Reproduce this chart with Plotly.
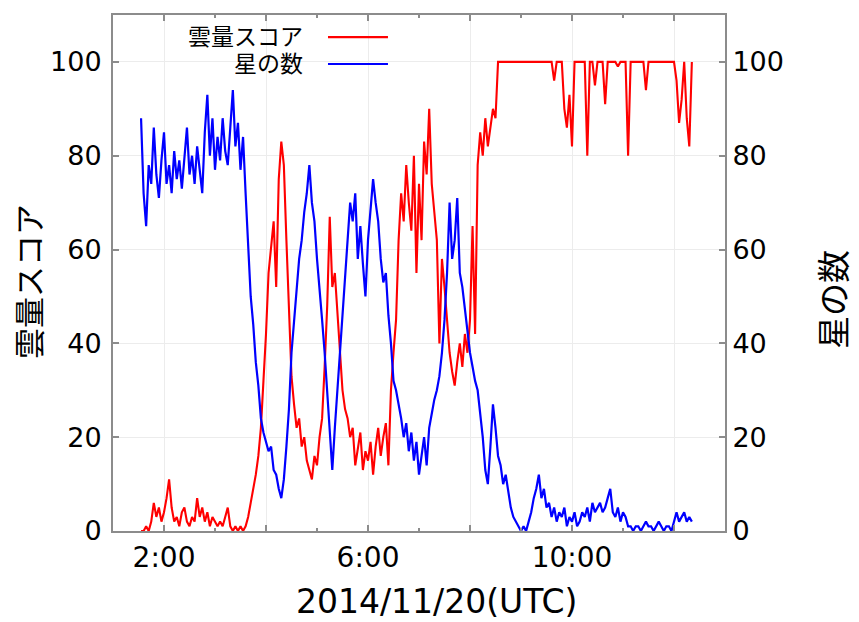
import pandas as pd
import plotly.graph_objects as go

# Cloud score (left axis) and star count (right axis), sampled every 3 minutes from 01:33 UTC
cloud_score = [
    0, 0, 1, 0, 2, 6, 3, 5, 2, 4,
    7, 11, 5, 2, 3, 1, 4, 5, 2, 1,
    3, 2, 7, 3, 5, 2, 4, 1, 3, 2,
    1, 2, 1, 3, 5, 1, 0, 1, 0, 1,
    0, 1, 3, 6, 9, 12, 16, 22, 32, 42,
    55, 60, 66, 52, 75, 83, 78, 62, 45, 33,
    27, 22, 24, 18, 20, 15, 13, 11, 16, 14,
    20, 24, 35, 48, 67, 52, 55, 46, 38, 30,
    26, 24, 20, 22, 14, 18, 21, 13, 17, 15,
    19, 12, 18, 22, 16, 20, 23, 14, 30, 38,
    45, 62, 72, 66, 78, 70, 64, 80, 55, 74,
    62, 83, 76, 90, 74, 68, 62, 40, 58, 52,
    44, 38, 34, 31, 36, 40, 35, 42, 38, 45,
    65, 42, 78, 85, 80, 88, 82, 86, 90, 88,
    100, 100, 100, 100, 100, 100, 100, 100, 100, 100,
    100, 100, 100, 100, 100, 100, 100, 100, 100, 100,
    100, 100, 96, 100, 100, 100, 90, 86, 93, 82,
    100, 100, 100, 100, 100, 80, 100, 100, 95, 100,
    100, 100, 91, 100, 100, 100, 100, 99, 100, 100,
    100, 80, 100, 100, 100, 100, 100, 100, 94, 100,
    100, 100, 100, 100, 100, 100, 100, 100, 100, 100,
    96, 87, 92, 100, 88, 82, 100,
]

star_count = [
    88, 72, 65, 78, 74, 86, 76, 71, 79, 85,
    74, 78, 72, 81, 75, 79, 73, 80, 86, 76,
    80, 74, 82, 77, 72, 85, 93, 80, 88, 77,
    84, 79, 88, 81, 78, 86, 94, 82, 87, 77,
    84, 72, 62, 50, 44, 36, 31, 24, 21, 19,
    17, 18, 13, 12, 9, 7, 11, 18, 26, 38,
    45, 52, 58, 62, 68, 72, 78, 70, 66, 58,
    52, 45, 38, 30, 20, 13, 22, 30, 38, 45,
    52, 62, 70, 66, 72, 58, 65, 57, 50, 62,
    68, 75, 70, 66, 58, 53, 55, 46, 40, 32,
    30, 27, 24, 20, 23, 17, 21, 15, 19, 12,
    16, 20, 14, 22, 25, 28, 30, 33, 38, 45,
    55, 70, 58, 62, 71, 55, 52, 47, 42, 38,
    35, 32, 30, 25, 20, 13, 10, 18, 27, 22,
    16, 14, 10, 12, 8, 5, 3, 2, 1, 0,
    1, 0, 2, 4, 7, 9, 12, 7, 9, 5,
    6, 3, 5, 2, 4, 3, 5, 1, 3, 2,
    4, 1, 2, 4, 3, 5, 2, 6, 4, 5,
    6, 4, 5, 7, 9, 4, 3, 5, 2, 4,
    3, 1, 1, 0, 1, 1, 0, 1, 2, 1,
    1, 0, 1, 2, 1, 0, 1, 1, 0, 2,
    4, 2, 3, 4, 2, 3, 2,
]

times = pd.date_range("2014-11-20 01:33", periods=len(cloud_score), freq="3min")

tick_vals = ["2014-11-20 02:00", "2014-11-20 04:00", "2014-11-20 06:00",
             "2014-11-20 08:00", "2014-11-20 10:00", "2014-11-20 12:00"]
tick_text = ["2:00", "", "6:00", "", "10:00", ""]
y_ticks = [0, 20, 40, 60, 80, 100]

RED = "#ff0000"
BLUE = "#0000ff"
AXIS = "#8c8c8c"
GRID = "#ececec"
LATIN = "DejaVu Sans"
JP = "DejaVu Sans, Noto Sans CJK JP"

fig = go.Figure()
fig.add_trace(go.Scatter(x=times, y=cloud_score, mode="lines", name="雲量スコア",
                         line=dict(color=RED, width=2.1), yaxis="y"))
fig.add_trace(go.Scatter(x=times, y=star_count, mode="lines", name="星の数",
                         line=dict(color=BLUE, width=2.2), yaxis="y2"))

fig.update_layout(
    width=859, height=622,
    margin=dict(l=113, r=134, t=15, b=91),
    paper_bgcolor="white", plot_bgcolor="white",
    showlegend=False,
    font=dict(family=LATIN, size=27, color="black"),
    xaxis=dict(
        type="date",
        range=["2014-11-20 01:00", "2014-11-20 13:00"],
        tickmode="array", tickvals=tick_vals, ticktext=tick_text,
        ticks="inside", ticklen=6, tickwidth=1.5, tickcolor=AXIS,
        minor=dict(dtick=3600000, ticks="inside", ticklen=3, tickcolor=AXIS,
                   showgrid=False),
        showline=True, linecolor=AXIS, linewidth=2, mirror="ticks",
        showgrid=True, gridcolor=GRID, gridwidth=1,
        zeroline=False, ticklabelstandoff=0,
        tickfont=dict(family=LATIN, size=28),
    ),
    yaxis=dict(
        range=[0, 110], tickvals=y_ticks,
        ticks="inside", ticklen=6, tickwidth=1.5, tickcolor=AXIS,
        showline=True, linecolor=AXIS, linewidth=2,
        showgrid=True, gridcolor=GRID, gridwidth=1,
        zeroline=False, ticklabelstandoff=4,
        tickfont=dict(family=LATIN, size=27),
    ),
    yaxis2=dict(
        range=[0, 110], tickvals=y_ticks, overlaying="y", side="right",
        ticks="inside", ticklen=6, tickwidth=1.5, tickcolor=AXIS,
        showline=True, linecolor=AXIS, linewidth=2,
        showgrid=False, zeroline=False, ticklabelstandoff=0,
        tickfont=dict(family=LATIN, size=27),
    ),
)

# white key panel in the upper-left corner, hiding the grid behind it
fig.add_shape(type="rect", xref="paper", yref="paper", x0=0, x1=0.515, y0=0.875, y1=1,
              fillcolor="white", line=dict(width=0), layer="between")

# key: labels on the left, line samples on the right
key_labels = ["雲量スコア", "星の数"]
key_colors = [RED, BLUE]
key_rows_y = [0.957, 0.905]
for label, color, ky in zip(key_labels, key_colors, key_rows_y):
    fig.add_annotation(text=label, xref="paper", yref="paper", x=0.3137, y=ky,
                       xanchor="right", yanchor="middle", showarrow=False,
                       font=dict(family=JP, size=23, color="black"))
    fig.add_shape(type="line", xref="paper", yref="paper", x0=0.3513, x1=0.4493,
                  y0=ky, y1=ky, line=dict(color=color, width=2.2))

# axis titles
fig.add_annotation(text="雲量スコア", xref="paper", yref="paper", x=-0.1356, y=0.4826,
                   textangle=-90, showarrow=False, xanchor="center", yanchor="middle",
                   font=dict(family=JP, size=31, color="black"))
fig.add_annotation(text="星の数", xref="paper", yref="paper", x=1.18, y=0.448,
                   textangle=-90, showarrow=False, xanchor="center", yanchor="middle",
                   font=dict(family=JP, size=33, color="black"))
fig.add_annotation(text="2014/11/20(UTC)", xref="paper", yref="paper", x=0.528, y=-0.137,
                   showarrow=False, xanchor="center", yanchor="middle",
                   font=dict(family=LATIN, size=33, color="black"))

fig.write_html("out.html")
